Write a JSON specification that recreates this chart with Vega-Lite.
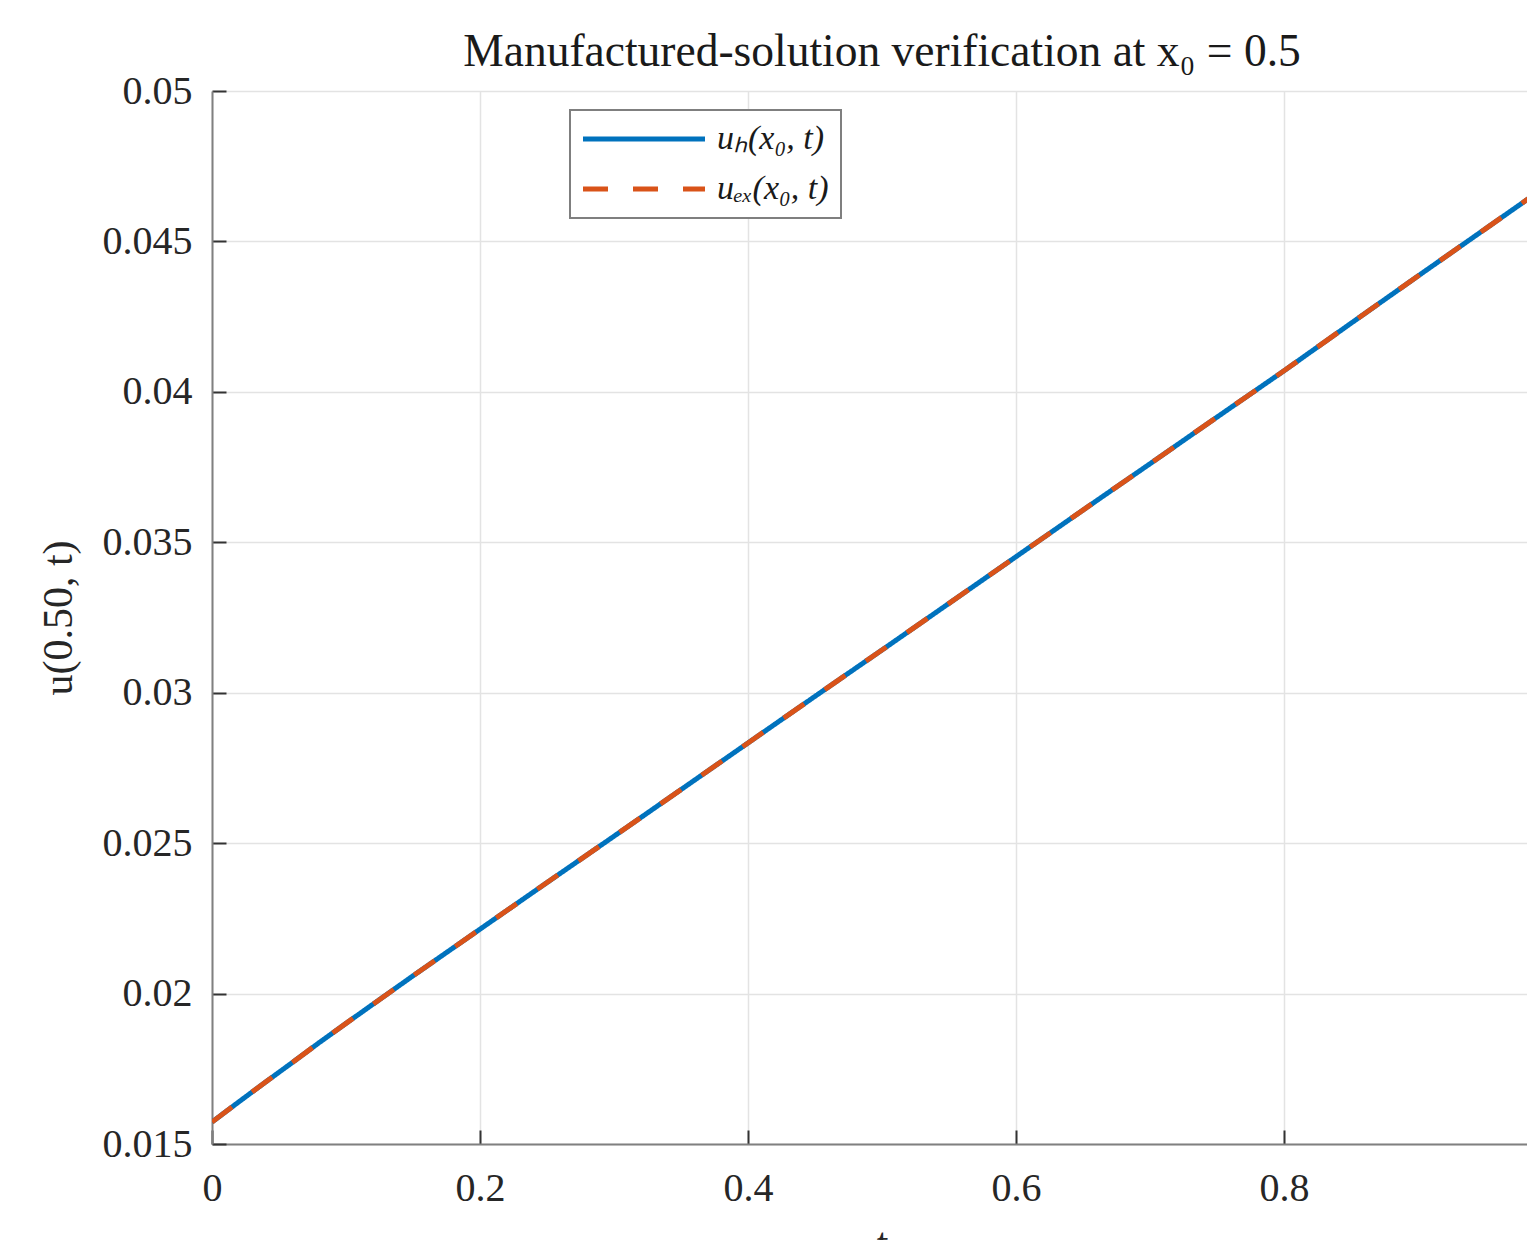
{
  "$schema": "https://vega.github.io/schema/vega-lite/v6.json",
  "autosize": {"type": "none"},
  "padding": {"left": 212, "top": 91, "right": 0, "bottom": 96},
  "width": 1340,
  "height": 1053,
  "background": "white",
  "title": {
    "text": "Manufactured-solution verification at x₀ = 0.5",
    "font": "Liberation Serif",
    "fontSize": 45.5,
    "fontWeight": "normal",
    "color": "#1a1a1a",
    "anchor": "middle",
    "offset": -4
  },
  "data": {
    "values": [
      {"t": 0, "u": 0.01573, "series": "uₕ(x₀, t)"},
      {"t": 0.02, "u": 0.0164, "series": "uₕ(x₀, t)"},
      {"t": 0.04, "u": 0.01706, "series": "uₕ(x₀, t)"},
      {"t": 0.06, "u": 0.01771, "series": "uₕ(x₀, t)"},
      {"t": 0.08, "u": 0.01837, "series": "uₕ(x₀, t)"},
      {"t": 0.1, "u": 0.01901, "series": "uₕ(x₀, t)"},
      {"t": 0.15, "u": 0.02059, "series": "uₕ(x₀, t)"},
      {"t": 0.2, "u": 0.02214, "series": "uₕ(x₀, t)"},
      {"t": 0.25, "u": 0.02369, "series": "uₕ(x₀, t)"},
      {"t": 0.3, "u": 0.02523, "series": "uₕ(x₀, t)"},
      {"t": 0.35, "u": 0.02678, "series": "uₕ(x₀, t)"},
      {"t": 0.4, "u": 0.02833, "series": "uₕ(x₀, t)"},
      {"t": 0.45, "u": 0.02988, "series": "uₕ(x₀, t)"},
      {"t": 0.5, "u": 0.03142, "series": "uₕ(x₀, t)"},
      {"t": 0.55, "u": 0.03297, "series": "uₕ(x₀, t)"},
      {"t": 0.6, "u": 0.03452, "series": "uₕ(x₀, t)"},
      {"t": 0.65, "u": 0.03607, "series": "uₕ(x₀, t)"},
      {"t": 0.7, "u": 0.03761, "series": "uₕ(x₀, t)"},
      {"t": 0.75, "u": 0.03916, "series": "uₕ(x₀, t)"},
      {"t": 0.8, "u": 0.0407, "series": "uₕ(x₀, t)"},
      {"t": 0.85, "u": 0.04228, "series": "uₕ(x₀, t)"},
      {"t": 0.9, "u": 0.04385, "series": "uₕ(x₀, t)"},
      {"t": 0.95, "u": 0.04541, "series": "uₕ(x₀, t)"},
      {"t": 1.0, "u": 0.04697, "series": "uₕ(x₀, t)"},
      {"t": 0, "u": 0.01573, "series": "uₑₓ(x₀, t)"},
      {"t": 0.02, "u": 0.0164, "series": "uₑₓ(x₀, t)"},
      {"t": 0.04, "u": 0.01706, "series": "uₑₓ(x₀, t)"},
      {"t": 0.06, "u": 0.01771, "series": "uₑₓ(x₀, t)"},
      {"t": 0.08, "u": 0.01837, "series": "uₑₓ(x₀, t)"},
      {"t": 0.1, "u": 0.01901, "series": "uₑₓ(x₀, t)"},
      {"t": 0.15, "u": 0.02059, "series": "uₑₓ(x₀, t)"},
      {"t": 0.2, "u": 0.02214, "series": "uₑₓ(x₀, t)"},
      {"t": 0.25, "u": 0.02369, "series": "uₑₓ(x₀, t)"},
      {"t": 0.3, "u": 0.02523, "series": "uₑₓ(x₀, t)"},
      {"t": 0.35, "u": 0.02678, "series": "uₑₓ(x₀, t)"},
      {"t": 0.4, "u": 0.02833, "series": "uₑₓ(x₀, t)"},
      {"t": 0.45, "u": 0.02988, "series": "uₑₓ(x₀, t)"},
      {"t": 0.5, "u": 0.03142, "series": "uₑₓ(x₀, t)"},
      {"t": 0.55, "u": 0.03297, "series": "uₑₓ(x₀, t)"},
      {"t": 0.6, "u": 0.03452, "series": "uₑₓ(x₀, t)"},
      {"t": 0.65, "u": 0.03607, "series": "uₑₓ(x₀, t)"},
      {"t": 0.7, "u": 0.03761, "series": "uₑₓ(x₀, t)"},
      {"t": 0.75, "u": 0.03916, "series": "uₑₓ(x₀, t)"},
      {"t": 0.8, "u": 0.0407, "series": "uₑₓ(x₀, t)"},
      {"t": 0.85, "u": 0.04228, "series": "uₑₓ(x₀, t)"},
      {"t": 0.9, "u": 0.04385, "series": "uₑₓ(x₀, t)"},
      {"t": 0.95, "u": 0.04541, "series": "uₑₓ(x₀, t)"},
      {"t": 1.0, "u": 0.04697, "series": "uₑₓ(x₀, t)"}
    ]
  },
  "encoding": {
    "x": {
      "field": "t",
      "type": "quantitative",
      "scale": {"domain": [0, 1], "nice": false},
      "axis": {
        "title": "t",
        "values": [0, 0.2, 0.4, 0.6, 0.8],
        "format": "~g",
        "labelFlush": false,
        "titlePadding": 15,
        "labelPadding": 38
      }
    },
    "y": {
      "field": "u",
      "type": "quantitative",
      "scale": {"domain": [0.015, 0.05], "nice": false, "zero": false},
      "axis": {
        "title": "u(0.50, t)",
        "values": [0.015, 0.02, 0.025, 0.03, 0.035, 0.04, 0.045, 0.05],
        "format": "~g",
        "titlePadding": 22,
        "labelPadding": 34
      }
    },
    "color": {
      "field": "series",
      "type": "nominal",
      "scale": {"domain": ["uₕ(x₀, t)", "uₑₓ(x₀, t)"], "range": ["#0072BD", "#D95319"]},
      "legend": {
        "orient": "none",
        "legendX": 358,
        "legendY": 19,
        "title": null
      }
    },
    "strokeDash": {
      "field": "series",
      "type": "nominal",
      "scale": {"domain": ["uₕ(x₀, t)", "uₑₓ(x₀, t)"], "range": [[1, 0], [25, 25]]},
      "legend": {
        "orient": "none",
        "legendX": 358,
        "legendY": 19,
        "title": null
      }
    }
  },
  "layer": [
    {
      "transform": [{"filter": "datum.series == 'uₕ(x₀, t)'"}],
      "mark": {"type": "line", "strokeWidth": 5, "clip": true}
    },
    {
      "transform": [{"filter": "datum.series == 'uₑₓ(x₀, t)'"}],
      "mark": {"type": "line", "strokeWidth": 5, "clip": true}
    }
  ],
  "config": {
    "view": {"stroke": null},
    "axis": {
      "labelFont": "Liberation Serif",
      "labelFontSize": 40,
      "labelColor": "#262626",
      "titleFont": "Liberation Serif",
      "titleFontSize": 42,
      "titleFontWeight": "normal",
      "titleColor": "#262626",
      "domainColor": "#808080",
      "domainWidth": 2,
      "tickColor": "#333333",
      "tickWidth": 2,
      "tickSize": -14,
      "grid": true,
      "gridColor": "#e3e3e3",
      "gridWidth": 1.5
    },
    "legend": {
      "fillColor": "white",
      "strokeColor": "#7f7f7f",
      "strokeWidth": 2,
      "padding": 12,
      "symbolType": "M-6.1,0L6.1,0",
      "symbolSize": 400,
      "symbolOffset": 45,
      "symbolStrokeWidth": 5,
      "labelFont": "Liberation Serif",
      "labelFontSize": 34,
      "labelFontStyle": "italic",
      "labelColor": "#1a1a1a",
      "labelOffset": 56,
      "rowPadding": 16,
      "labelLimit": 400
    }
  }
}
